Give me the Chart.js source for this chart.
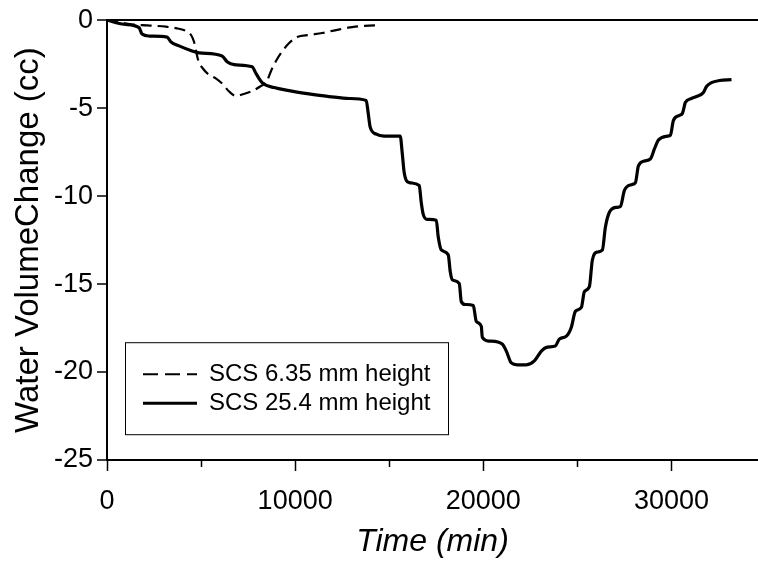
<!DOCTYPE html>
<html>
<head>
<meta charset="utf-8">
<script src="https://cdn.jsdelivr.net/npm/chart.js@4/dist/chart.umd.min.js"></script>
<style>
  html, body { margin: 0; padding: 0; background: #fff; }
  #wrap { width: 758px; height: 564px; }
</style>
</head>
<body>
<div id="wrap"><canvas id="volumeChart" width="758" height="564"></canvas></div>
<script>
// SCS 25.4 mm height (solid line)
const solidTime = [0, 904, 1702, 1862, 2234, 3191, 3404, 3830, 4521, 4894, 6117, 6383, 6755, 7713, 7925, 8244,
  8883, 9681, 10904, 11808, 12872, 13776, 13883, 13989, 14308, 14734, 15585, 15691, 15797, 16063, 16595,
  16702, 16808, 17021, 17500, 17606, 17766, 18138, 18244, 18351, 18723, 18829, 19042, 19468, 19627, 19893,
  19946, 20319, 21010, 21223, 21489, 21808, 22287, 22712, 23085, 23404, 23829, 24042, 24414, 24680, 24893,
  25212, 25372, 25638, 25797, 26063, 26329, 26489, 26702, 27074, 27287, 27500, 27872, 28085, 28244, 28563,
  28882, 29095, 29308, 29787, 29947, 30106, 30425, 30585, 30744, 31063, 31329, 31702, 31861, 32127, 32553, 33191];
const solidVolume = [0, -0.23, -0.42, -0.79, -0.90, -0.96, -1.24, -1.46, -1.75, -1.86, -2.03, -2.36, -2.53, -2.65, -3.04, -3.55,
  -3.83, -4.00, -4.22, -4.34, -4.45, -4.56, -5.29, -6.08, -6.48, -6.59, -6.59, -7.55, -8.67, -9.23, -9.40,
  -10.36, -11.04, -11.32, -11.37, -12.33, -13.06, -13.34, -14.30, -14.75, -14.98, -15.99, -16.16, -16.22, -17.12, -17.40,
  -18.02, -18.24, -18.41, -18.81, -19.48, -19.59, -19.59, -19.37, -18.81, -18.58, -18.52, -18.13, -17.96, -17.45, -16.55,
  -16.33, -15.43, -15.15, -13.63, -13.18, -13.06, -11.77, -10.92, -10.64, -10.59, -9.68, -9.35, -9.23, -8.28, -8.00,
  -7.88, -7.32, -6.81, -6.59, -6.53, -5.69, -5.41, -5.29, -4.67, -4.45, -4.34, -4.11, -3.77, -3.55, -3.43, -3.38];

// SCS 6.35 mm height (dashed line)
const dashTime = [0, 638, 1277, 1862, 2394, 3138, 3670, 4202, 4468, 4628, 4734, 4840, 5106, 5425, 5798, 6117,
  6489, 6862, 7181, 7660, 8138, 8510, 8723, 8989, 9255, 9681, 10106, 10744, 11436, 12181, 13032, 13936, 14362];
const dashVolume = [0, -0.11, -0.23, -0.28, -0.31, -0.37, -0.45, -0.62, -0.84, -1.24, -1.75, -2.25, -2.76, -3.10, -3.32, -3.60,
  -4.05, -4.31, -4.22, -4.05, -3.77, -3.43, -2.87, -2.31, -1.86, -1.30, -0.96, -0.84, -0.73, -0.56, -0.39, -0.31, -0.28];

const xTicks = [0, 5000, 10000, 15000, 20000, 25000, 30000];
const xLabelTicks = [0, 10000, 20000, 30000];
const yTicks = [-25, -20, -15, -10, -5, 0];
const seriesNames = ["SCS 6.35 mm height", "SCS 25.4 mm height"];

const FONT = "'Liberation Sans', Arial, Helvetica, sans-serif";

document.addEventListener("DOMContentLoaded", () => {

    // tick marks under the x axis: long for labelled ticks, short for the others
    const xTickMarks = {
        id: "xTickMarks",
        afterDraw(chart) {
            const ctx = chart.ctx;
            const xs = chart.scales.x;
            const yBase = chart.chartArea.bottom;
            ctx.save();
            ctx.strokeStyle = "#000";
            ctx.lineWidth = 1.5;
            xTicks.forEach(v => {
                const px = Math.round(xs.getPixelForValue(v)) + 0.5;
                const len = xLabelTicks.includes(v) ? 11 : 7;
                ctx.beginPath();
                ctx.moveTo(px, yBase);
                ctx.lineTo(px, yBase + len);
                ctx.stroke();
            });
            ctx.restore();
        }
    };

    // boxed legend inside the plot, bottom-left
    const boxLegend = {
        id: "boxLegend",
        afterDraw(chart) {
            const ctx = chart.ctx;
            const a = chart.chartArea;
            const bx = a.left + 18, by = a.top + 322, bw = 323, bh = 92;
            ctx.save();
            ctx.strokeStyle = "#000";
            ctx.lineWidth = 1;
            ctx.strokeRect(bx + 0.5, by + 0.5, bw, bh);

            const rows = [by + 32, by + 61];
            ctx.lineWidth = 2;
            ctx.setLineDash([15, 7]);
            ctx.beginPath();
            ctx.moveTo(bx + 18, rows[0]);
            ctx.lineTo(bx + 72, rows[0]);
            ctx.stroke();

            ctx.setLineDash([]);
            ctx.lineWidth = 3;
            ctx.beginPath();
            ctx.moveTo(bx + 18, rows[1]);
            ctx.lineTo(bx + 72, rows[1]);
            ctx.stroke();

            ctx.fillStyle = "#000";
            ctx.font = "24px " + FONT;
            ctx.textAlign = "left";
            ctx.textBaseline = "middle";
            ctx.fillText(seriesNames[0], bx + 84, rows[0]);
            ctx.fillText(seriesNames[1], bx + 84, rows[1]);
            ctx.restore();
        }
    };

    const ctx = document.getElementById("volumeChart").getContext("2d");
    new Chart(ctx, {
        type: "line",
        data: {
            datasets: [
                {
                    label: seriesNames[0],
                    data: dashTime.map((t, i) => ({ x: t, y: dashVolume[i] })),
                    borderColor: "#000",
                    borderWidth: 2.2,
                    borderDash: [11, 6],
                    pointRadius: 0,
                    cubicInterpolationMode: "monotone",
                    fill: false
                },
                {
                    label: seriesNames[1],
                    data: solidTime.map((t, i) => ({ x: t, y: solidVolume[i] })),
                    borderColor: "#000",
                    borderWidth: 3.2,
                    pointRadius: 0,
                    cubicInterpolationMode: "monotone",
                    fill: false
                }
            ]
        },
        options: {
            responsive: false,
            animation: false,
            devicePixelRatio: 1,
            layout: { padding: { top: 16, right: 0, left: 0, bottom: 0 } },
            plugins: {
                legend: { display: false },
                tooltip: { enabled: false }
            },
            scales: {
                x: {
                    type: "linear",
                    min: 0,
                    max: 34600,
                    afterBuildTicks: scale => { scale.ticks = xTicks.map(v => ({ value: v })); },
                    afterFit: scale => { scale.height = 104; },
                    ticks: {
                        autoSkip: false,
                        maxRotation: 0,
                        padding: 25,
                        color: "#000",
                        font: { size: 27, family: FONT },
                        callback: v => (xLabelTicks.includes(v) ? String(v) : "")
                    },
                    grid: { drawOnChartArea: false, drawTicks: false },
                    border: { display: true, color: "#000", width: 2 },
                    title: {
                        display: true,
                        text: "Time (min)",
                        color: "#000",
                        font: { size: 32, style: "italic", family: FONT },
                        padding: { top: 0, bottom: 3 }
                    }
                },
                y: {
                    type: "linear",
                    min: -25,
                    max: 0,
                    afterBuildTicks: scale => { scale.ticks = yTicks.map(v => ({ value: v })); },
                    afterFit: scale => { scale.width = 107; },
                    ticks: {
                        padding: 4,
                        color: "#000",
                        font: { size: 27, family: FONT }
                    },
                    grid: {
                        drawOnChartArea: true,
                        drawTicks: true,
                        tickLength: 10,
                        tickColor: "#000",
                        tickWidth: 1.5,
                        lineWidth: 2,
                        color: c => (c.tick && c.tick.value === 0 ? "#000" : "rgba(0,0,0,0)")
                    },
                    border: { display: true, color: "#000", width: 2 },
                    title: {
                        display: true,
                        text: "Water VolumeChange (cc)",
                        color: "#000",
                        font: { size: 33, family: FONT },
                        padding: { top: 9, bottom: 0 }
                    }
                }
            }
        },
        plugins: [xTickMarks, boxLegend]
    });
});
</script>
</body>
</html>
